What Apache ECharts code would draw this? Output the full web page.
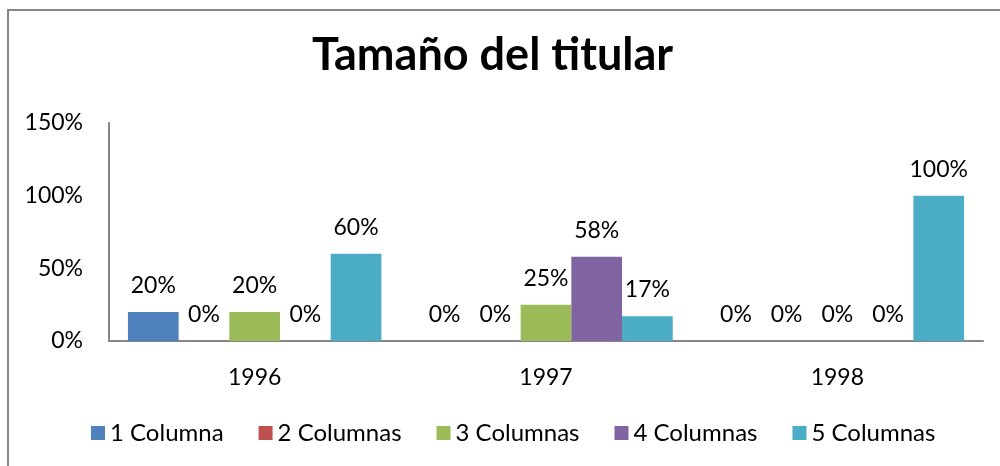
<!DOCTYPE html>
<html>
<head>
<meta charset="utf-8">
<script src="https://cdn.jsdelivr.net/npm/echarts@6/dist/echarts.min.js"></script>
<style>
html, body { margin: 0; padding: 0; background: #fff; }
#myChart { width: 1000px; height: 466px; }
</style>
</head>
<body>
<div id="myChart"></div>
<script>
// datos
var years = ['1996', '1997', '1998'];
var seriesNames = ['1 Columna', '2 Columnas', '3 Columnas', '4 Columnas', '5 Columnas'];
var col1 = [20, 0, 0];
var col2 = [0, 0, 0];
var col3 = [20, 25, 0];
var col4 = [0, 58, 0];
var col5 = [60, 17, 100];
var yTicks = [0, 50, 100, 150];

var colors = ['#4F81BD', '#C0504D', '#9BBB59', '#8064A2', '#4BACC6'];
var font = 'Lato, "Open Sans", sans-serif';

var myChart = echarts.init(document.getElementById('myChart'));

var values = [col1, col2, col3, col4, col5];
var series = [];
for (var i = 0; i < seriesNames.length; i++) {
  series.push({
    name: seriesNames[i],
    type: 'bar',
    data: values[i],
    barGap: '0%',
    barCategoryGap: '13%',
    itemStyle: { color: colors[i] },
    label: {
      show: true,
      position: 'top',
      distance: 15,
      formatter: '{c}%',
      color: '#000',
      fontSize: 23,
      fontFamily: font
    }
  });
}

myChart.setOption({
  animation: false,
  title: {
    text: 'Tamaño del titular',
    left: 307,
    top: 28,
    textStyle: { fontSize: 45, fontWeight: 'bold', color: '#000', fontFamily: font }
  },
  graphic: [{
    type: 'rect',
    shape: { x: 8, y: 10, width: 1000, height: 470 },
    style: { fill: 'none', stroke: '#868686', lineWidth: 2 },
    silent: true
  }],
  legend: {
    data: seriesNames,
    left: 86,
    top: 416,
    itemWidth: 14,
    itemHeight: 14,
    itemGap: 35,
    icon: 'rect',
    textStyle: { fontSize: 24, color: '#000', fontFamily: font }
  },
  grid: { left: 109, right: 17, top: 123, bottom: 125 },
  xAxis: {
    type: 'category',
    data: years,
    axisLine: { lineStyle: { color: '#868686', width: 2 } },
    axisTick: { show: false },
    axisLabel: { fontSize: 23, color: '#000', margin: 25, fontFamily: font }
  },
  yAxis: {
    type: 'value',
    min: yTicks[0],
    max: yTicks[yTicks.length - 1],
    interval: 50,
    axisLine: { show: true, lineStyle: { color: '#868686', width: 2 } },
    axisTick: { show: false },
    splitLine: { show: false },
    axisLabel: { fontSize: 23, color: '#000', margin: 26, formatter: '{value}%', fontFamily: font }
  },
  series: series
});
</script>
</body>
</html>
